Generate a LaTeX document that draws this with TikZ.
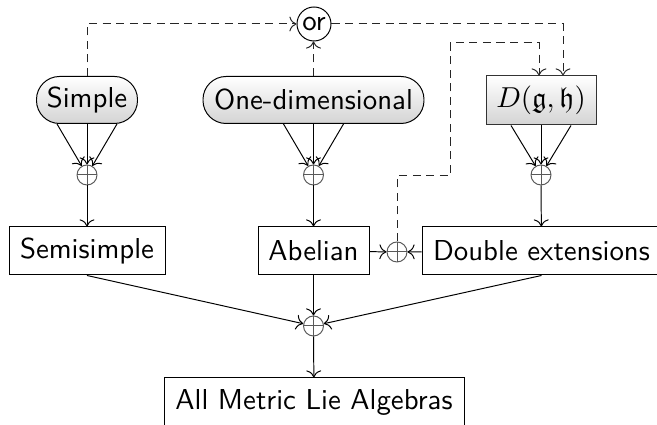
\documentclass[tikz,border=0pt]{standalone}
\usepackage{amssymb}
\usetikzlibrary{calc,arrows.meta}
\newcommand\pxu{0.347pt}
\begin{document}
\begin{tikzpicture}[x=0.347pt,y=-0.347pt,font=\sffamily,line width=0.34pt,>={To[scale=1.05]},
  box/.style={draw,inner sep=0pt,minimum height=48*\pxu},
  pill/.style={draw,inner sep=0pt,rounded corners=23*\pxu,minimum height=47*\pxu,top color=white,bottom color=black!17},
  shbox/.style={draw=black!80,inner sep=0pt,minimum height=49*\pxu,top color=white,bottom color=black!17},
  ornode/.style={draw,circle,fill=white,inner sep=0pt,minimum size=34*\pxu},
  plusnode/.style={draw=black!65,circle,inner sep=0pt,minimum size=20*\pxu,
    path picture={\draw[black!65] (path picture bounding box.north) -- (path picture bounding box.south)
      (path picture bounding box.west) -- (path picture bounding box.east);}},
  dsh/.style={draw=black!85,dash pattern=on 2.8pt off 1.9pt}]
\useasboundingbox (0,0) rectangle (657,425);
% top row
\node[pill,minimum width=101*\pxu] (simple) at (87,100) {Simple};
\node[pill,minimum width=221*\pxu] (onedim) at (313.5,100) {One-dimensional};
\node[shbox,minimum width=110*\pxu] (dgh) at (541,100.5) {$D(\mathfrak{g},\mathfrak{h})$};
\node[ornode] (or) at (314,24) {or};
% plus nodes
\node[plusnode] (p1) at (87,175) {};
\node[plusnode] (p2) at (313.5,175) {};
\node[plusnode] (p3) at (541,175) {};
\node[plusnode] (p4) at (397,252) {};
\node[plusnode] (p5) at (313.5,326) {};
% middle row
\node[box,minimum width=156*\pxu] (semi) at (87,251) {Semisimple};
\node[box,minimum width=111*\pxu] (abel) at (313.5,251) {Abelian};
\node[box,minimum width=239*\pxu] (dbl) at (541.5,251) {Double extensions};
\node[box,minimum width=300*\pxu] (all) at (314,402) {All Metric Lie Algebras};
% coordinates
\coordinate (c1) at (450,176);
\coordinate (c2) at (450,43);
\coordinate (c3) at (539,43);
\coordinate (c4) at (563,24);
% solid arrows
\foreach \a/\b in {simple/p1,onedim/p2,dgh/p3}{
  \draw[->] ($(\a.south)+(-30,0)$) -- (\b);
  \draw[->] (\a.south) -- (\b);
  \draw[->] ($(\a.south)+(30,0)$) -- (\b);
}
\draw[->] (p1) -- (semi);
\draw[->] (p2) -- (abel);
\draw[->] (p3) -- (dbl);
\draw[->] (abel) -- (p4);
\draw[->] (dbl) -- (p4);
\draw[->] (semi.south) -- (p5);
\draw[->] (abel.south) -- (p5);
\draw[->] (dbl.south) -- (p5);
\draw[->] (p5) -- (all);
% dashed
\draw[dsh,->] (simple.north) |- (or.west);
\draw[dsh,->] (onedim.north) -- (onedim.north |- or.south);
\draw[dsh,->] (or.east) -- (c4) -- (c4 |- dgh.north);
\draw[dsh,->] (p4.north) |- (c1) -- (c2) -- (c3) -- (c3 |- dgh.north);
\end{tikzpicture}
\end{document}
